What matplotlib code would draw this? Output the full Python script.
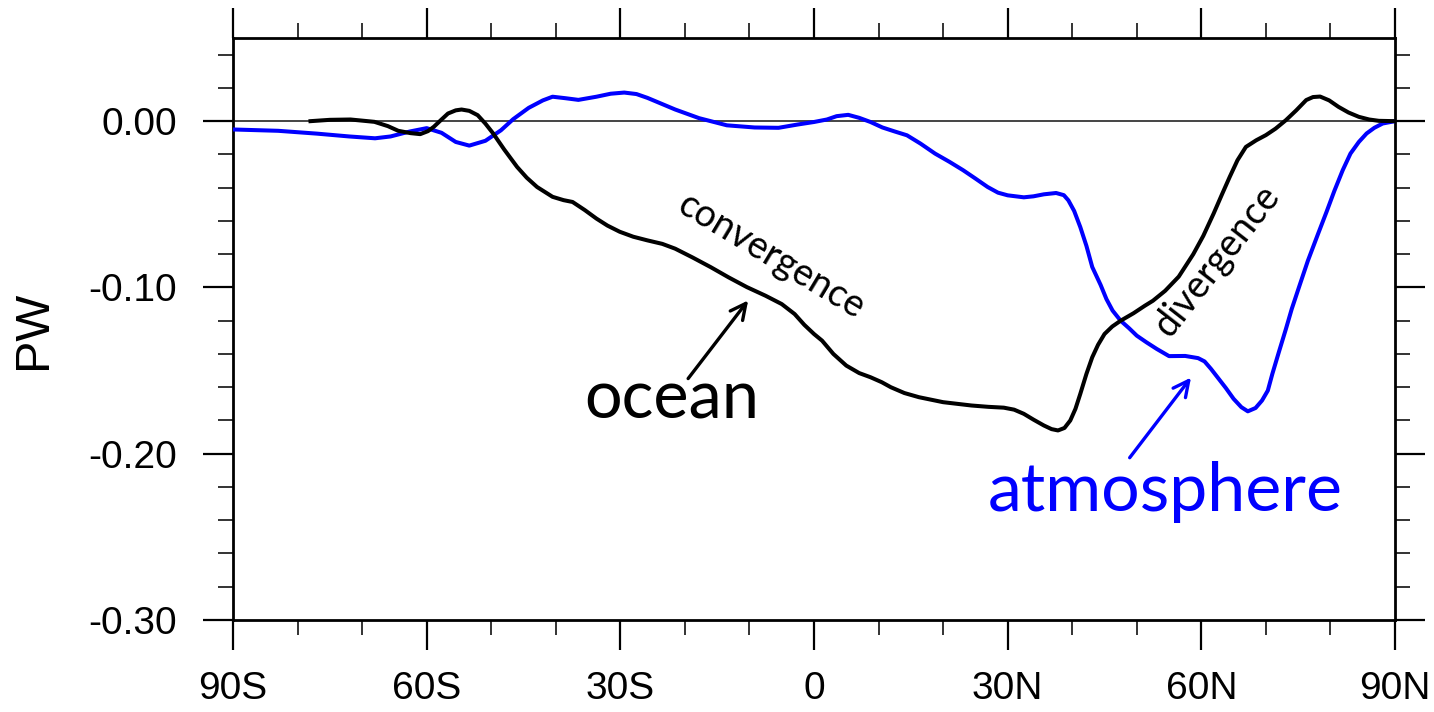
import numpy as np
import matplotlib

matplotlib.use("Agg")
import matplotlib.pyplot as plt

# zonal-mean northward heat transport anomaly (PW) by latitude
atm_lat = [
    -90, -83, -77, -72, -68, -65.6, -62.6, -60, -57.7, -55.5, -53.4, -50.9,
    -48.5, -46.6, -44.2, -42, -40.5, -38.5, -36.5, -33.7, -31.5, -29.4, -27.5,
    -25.8, -21.5, -17.8, -13.5, -9.2, -5.5, -2.5, 0, 2, 3.5, 5.3, 7, 8.75,
    10.6, 12.5, 14.4, 16.5, 18.75, 21, 23.1, 25, 26.9, 28.5, 30, 32.5, 34,
    35.6, 37.5, 38.7, 39.4, 40.3, 41.25, 42.2, 43.1, 44.4, 45.3, 46.25, 47.5,
    48.8, 50, 51.5, 53.1, 55, 57.5, 59.5, 60.5, 61.5, 62.5, 63.8, 65, 66.2,
    67.2, 68.4, 69.4, 70.3, 71, 72, 73.1, 74, 75.2, 76.5, 78.1, 79.4, 80.6,
    81.9, 83.1, 84.4, 85.6, 86.8, 88.1, 90,
]
atm_pw = [
    -0.0050, -0.0058, -0.0075, -0.0092, -0.0103, -0.0092, -0.0062, -0.0042,
    -0.0070, -0.0125, -0.0147, -0.0118, -0.0055, 0.0012, 0.0080, 0.0125,
    0.0147, 0.0138, 0.0128, 0.0147, 0.0165, 0.0172, 0.0163, 0.0140, 0.0070,
    0.0018, -0.0025, -0.0038, -0.0040, -0.0020, -0.0005, 0.0010, 0.0030,
    0.0038, 0.0020, -0.0005, -0.0038, -0.0062, -0.0085, -0.0135, -0.0195,
    -0.0245, -0.0295, -0.0345, -0.0396, -0.0430, -0.0446, -0.0458, -0.0452,
    -0.0440, -0.0432, -0.0445, -0.0476, -0.0540, -0.0637, -0.0750, -0.0877,
    -0.0985, -0.1070, -0.1139, -0.1200, -0.1245, -0.1290, -0.1330, -0.1370,
    -0.1413, -0.1412, -0.1425, -0.1445, -0.1490, -0.1540, -0.1605, -0.1670,
    -0.1720, -0.1745, -0.1725, -0.1680, -0.1620, -0.1520, -0.1390, -0.1250,
    -0.1130, -0.0990, -0.0840, -0.0676, -0.0545, -0.0420, -0.0295, -0.0195,
    -0.0125, -0.0074, -0.0040, -0.0014, 0.0,
]

ocn_lat = [
    -78, -75, -71.8, -68.1, -66, -64.4, -62.5, -61, -59.8, -58.9, -57.7, -56.7,
    -55.5, -54.6, -53.4, -52.1, -50.9, -49.7, -48, -46, -44.5, -42.9, -40.5,
    -38.8, -37.4, -35.5, -33.7, -32, -30.1, -28, -25.8, -23.5, -21.5, -18.8,
    -16, -13.2, -10.4, -7.5, -5, -3, -1.5, 0, 1.25, 3, 5, 7, 8.75, 10.5, 11.9,
    14, 16.25, 20, 24.4, 27, 29.4, 31, 32.5, 34, 35.6, 36.8, 37.8, 38.8, 39.7,
    40.5, 41.25, 42.2, 43.1, 44, 45, 46.2, 47.5, 49.5, 51.25, 52.5, 54.4, 56.5,
    58.75, 60.3, 61.9, 63.2, 64.4, 65.6, 66.9, 68.5, 70, 71.5, 73.1, 74.7,
    76.25, 77.3, 78.4, 79.8, 81.25, 82.8, 84.4, 86, 87.5, 90,
]
ocn_pw = [
    0.0, 0.0008, 0.0010, -0.0004, -0.0030, -0.0058, -0.0072, -0.0078, -0.0060,
    -0.0034, 0.0010, 0.0046, 0.0065, 0.0070, 0.0062, 0.0036, -0.0015, -0.0074,
    -0.0170, -0.0275, -0.0340, -0.0396, -0.0455, -0.0475, -0.0486, -0.0535,
    -0.0586, -0.0628, -0.0665, -0.0695, -0.0717, -0.0738, -0.0767, -0.0820,
    -0.0878, -0.0940, -0.0998, -0.1050, -0.1100, -0.1160, -0.1225, -0.1280,
    -0.1320, -0.1400, -0.1470, -0.1515, -0.1540, -0.1570, -0.1600, -0.1635,
    -0.1660, -0.1690, -0.1710, -0.1718, -0.1723, -0.1735, -0.1760, -0.1795,
    -0.1830, -0.1852, -0.1860, -0.1845, -0.1800, -0.1730, -0.1640, -0.1520,
    -0.1420, -0.1345, -0.1280, -0.1235, -0.1200, -0.1155, -0.1110, -0.1080,
    -0.1020, -0.0935, -0.0800, -0.0690, -0.0556, -0.0440, -0.0335, -0.0235,
    -0.0155, -0.0115, -0.0084, -0.0045, 0.0006, 0.0065, 0.0127, 0.0145, 0.0148,
    0.0125, 0.0086, 0.0052, 0.0026, 0.0010, 0.0002, 0.0,
]

lat_ticks = [-90, -60, -30, 0, 30, 60, 90]
lat_labels = ["90S", "60S", "30S", "0", "30N", "60N", "90N"]
pw_ticks = [0.0, -0.1, -0.2, -0.3]
pw_labels = ["0.00", "-0.10", "-0.20", "-0.30"]

plt.rcParams["font.family"] = ["Liberation Sans", "DejaVu Sans"]
note_font = ["Lato", "DejaVu Sans"]

fig = plt.figure(figsize=(14.34, 7.12), dpi=100)
ax = fig.add_axes([0.1625, 0.1292, 0.8103, 0.8174])

ax.axhline(0, color="#444444", lw=1.4, zorder=1)
ax.plot(atm_lat, atm_pw, color="#0000ff", lw=2.9, zorder=3,
        solid_joinstyle="round")
ax.plot(ocn_lat, ocn_pw, color="black", lw=2.9, zorder=3,
        solid_joinstyle="round")

ax.set_xlim(-90, 90)
ax.set_ylim(-0.30, 0.05)
ax.set_xticks(lat_ticks)
ax.set_xticklabels(lat_labels)
ax.set_xticks(np.arange(-80, 90, 10), minor=True)
ax.set_yticks(pw_ticks)
ax.set_yticklabels(pw_labels)
# minor ticks every 0.02, skipping the labelled tenths
minor_pw = [round(v, 2) for v in np.arange(-0.28, 0.05, 0.02)]
ax.set_yticks([v for v in minor_pw if abs(v * 10 - round(v * 10)) > 1e-6],
              minor=True)

for s in ax.spines.values():
    s.set_linewidth(2.0)
ax.tick_params(which="both", direction="out", top=True, right=True,
               labeltop=False, labelright=False, width=1.6, colors="black")
ax.tick_params(which="major", length=21.5, labelsize=28)
ax.tick_params(axis="x", which="major", pad=15)
ax.tick_params(axis="y", which="major", pad=19)
ax.tick_params(which="minor", length=11, width=1.4, color="#333333")

fig.text(34 / 1434, 1 - 330 / 712, "PW", rotation=90, ha="center",
         va="center", fontsize=35)

# labels and pointers
ax.text(-22.0, -0.1789, "ocean", fontsize=48, family=note_font,
        ha="center", va="baseline", color="black")
ax.text(54.4, -0.2343, "atmosphere", fontsize=49, family=note_font,
        ha="center", va="baseline", color="#0000ff")
ax.text(-6.7, -0.0813, "convergence", fontsize=27, family=note_font,
        rotation=-31, rotation_mode="anchor", ha="center", va="center")
ax.text(62.4, -0.0837, "divergence", fontsize=27, family=note_font,
        rotation=52, rotation_mode="anchor", ha="center", va="center")
ax.annotate("", xy=(-10.2, -0.1078), xytext=(-19.5, -0.1548),
            arrowprops=dict(arrowstyle="->", color="black", lw=2.4,
                            mutation_scale=28, shrinkA=0, shrinkB=0))
ax.annotate("", xy=(58.4, -0.1542), xytext=(48.9, -0.2024),
            arrowprops=dict(arrowstyle="->", color="#0000ff", lw=2.4,
                            mutation_scale=28, shrinkA=0, shrinkB=0))

fig.savefig("out.png", dpi=100)
